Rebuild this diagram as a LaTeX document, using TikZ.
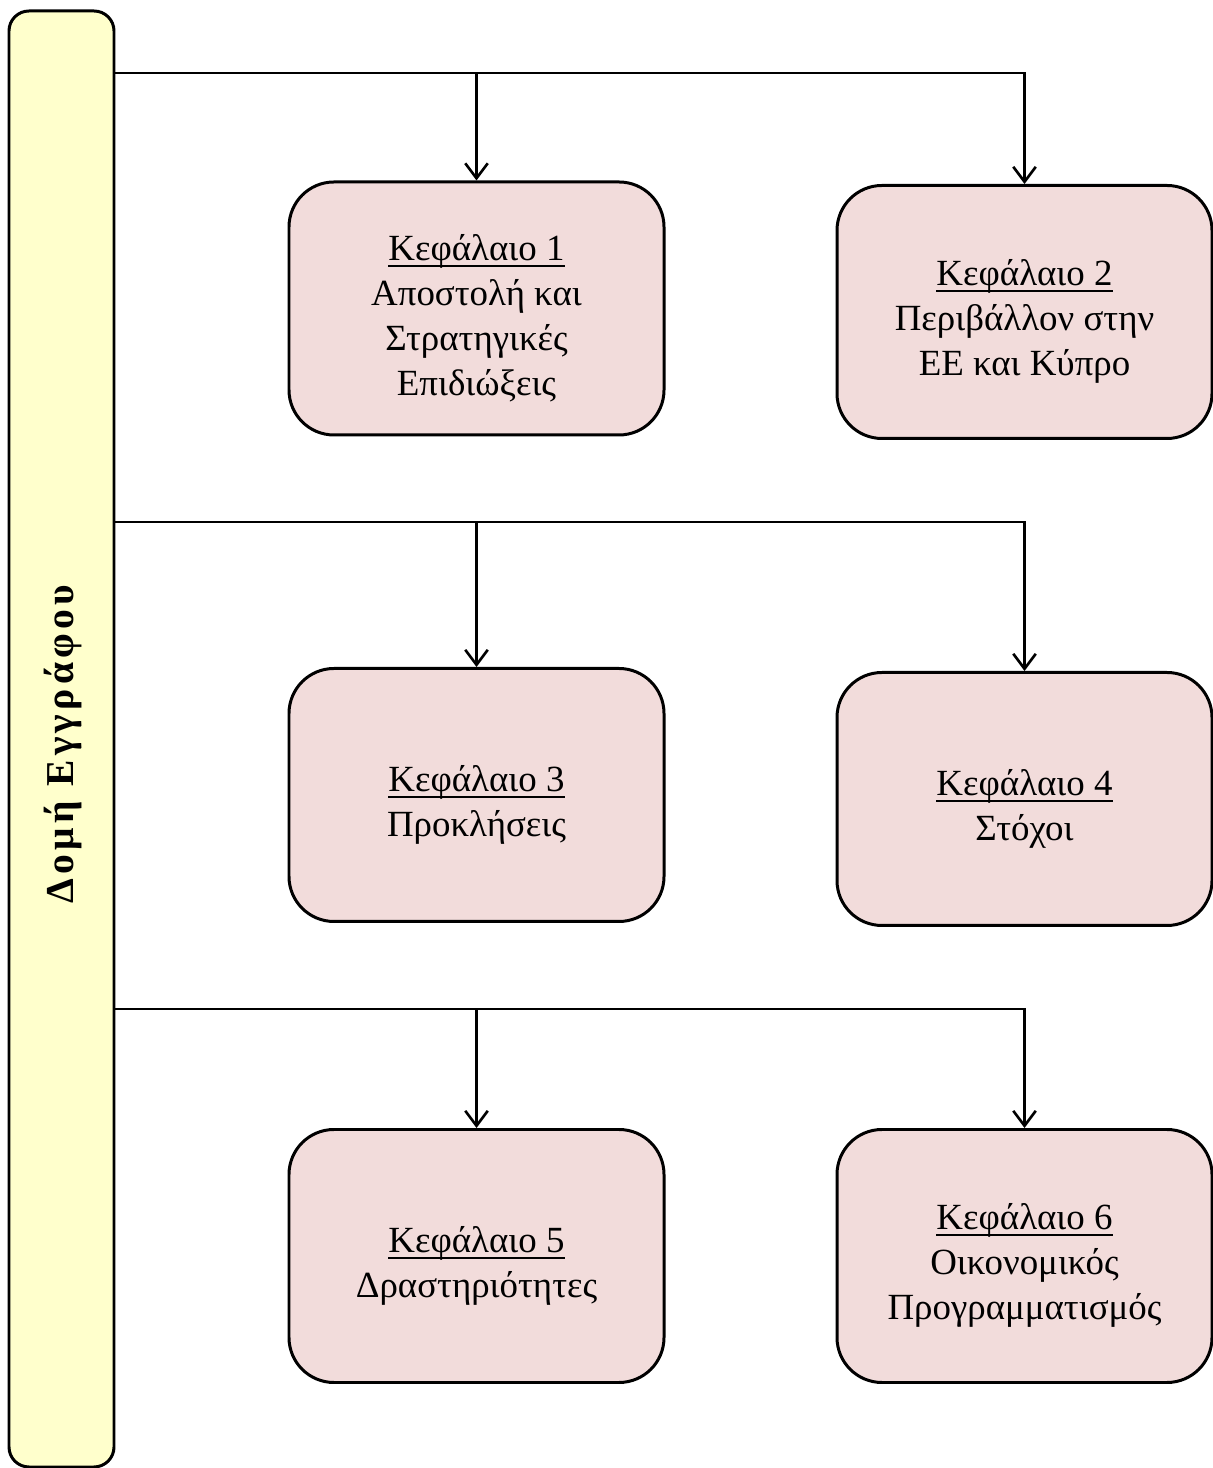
\documentclass[tikz,border=0pt]{standalone}
\usepackage{fontspec}
\setmainfont{Liberation Serif}
\usepackage{tikz}
\usetikzlibrary{arrows.meta}
\definecolor{chapter}{HTML}{F2DCDB}
\definecolor{doc}{HTML}{FFFFCC}
\newcommand{\chapline}[1]{\rule{0pt}{26pt}\setbox0\hbox{#1}\rlap{\vrule height -2.6pt depth 3.6pt width \wd0}\box0}
\tikzset{chapter/.style={black,draw=black,fill=chapter,rectangle,rounded corners=0.9cm,line width=1.7pt,minimum width=7.5cm,minimum height=5.06cm,align=center,font=\fontsize{21}{25.6}\selectfont}}
\tikzset{doc/.style={black,draw=black,fill=doc,rectangle,rounded corners=0.4cm,line width=1.7pt}}
\tikzset{link/.style={line width=1.5pt,-{Straight Barb[length=0.3cm,width=0.45cm,line width=1.5pt]}}}

\begin{document}
\begin{tikzpicture}
    \useasboundingbox (0,0) rectangle (24.26,29.36);

    \node[doc,minimum width=2.1cm,minimum height=29.12cm] (doc) at (1.23,14.58) {};
    \node[rotate=90] (title) at (1.26,14.48)
    {\fontsize{22.5}{26}\selectfont\bfseries\addfontfeature{LetterSpace=11}Δομή Εγγράφου};

    \node[chapter] (ch1) at (9.53,23.19)
    {\chapline{Κεφάλαιο 1}\\Αποστολή και\\Στρατηγικές\\Επιδιώξεις};
    \node[chapter] (ch2) at (20.49,23.12)
    {\chapline{Κεφάλαιο 2}\\Περιβάλλον στην\\ΕΕ και Κύπρο};

    \node[chapter] (ch3) at (9.53,13.46)
    {\chapline{Κεφάλαιο 3}\\Προκλήσεις};
    \node[chapter] (ch4) at (20.49,13.38)
    {\chapline{Κεφάλαιο 4}\\Στόχοι};

    \node[chapter] (ch5) at (9.53,4.24)
    {\chapline{Κεφάλαιο 5}\\Δραστηριότητες};
    \node[chapter] (ch6) at (20.49,4.24)
    {\chapline{Κεφάλαιο 6}\\Οικονομικός\\Προγραμματισμός};

    \coordinate (row1) at (2.28,27.90);
    \coordinate (row2) at (2.28,18.92);
    \coordinate (row3) at (2.28,9.18);

    \draw[link] (row1) -| (ch2);
    \draw[link] (ch1.north |- row1) -- (ch1);
    \draw[link] (row2) -| (ch4);
    \draw[link] (ch3.north |- row2) -- (ch3);
    \draw[link] (row3) -| (ch6);
    \draw[link] (ch5.north |- row3) -- (ch5);

  \end{tikzpicture}
\end{document}
